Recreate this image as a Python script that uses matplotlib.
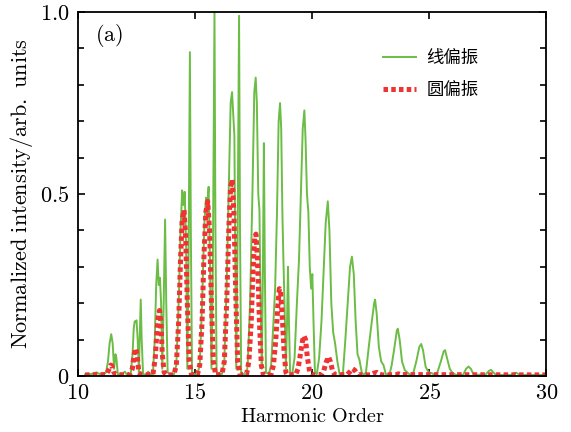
import matplotlib
matplotlib.use("Agg")
import matplotlib.pyplot as plt
from matplotlib.ticker import MultipleLocator

plt.rcParams['mathtext.fontset'] = 'cm'

# Linear polarization (green) spectrum
lin_x = [10.3, 10.6, 10.8, 10.9, 11.1, 11.2,
         11.28, 11.35, 11.42, 11.48, 11.54, 11.6, 11.64, 11.7, 11.85, 12.0, 12.1, 12.25,
         12.33, 12.38, 12.42, 12.46, 12.5, 12.55, 12.6, 12.63, 12.68, 12.72, 12.78, 12.9, 13.0, 13.1, 13.2,
         13.28, 13.34, 13.4, 13.45, 13.5, 13.55, 13.6, 13.66, 13.72, 13.77, 13.83, 13.95, 14.1,
         14.2, 14.3, 14.38, 14.45, 14.5, 14.56, 14.62, 14.67, 14.72, 14.78, 14.82, 14.87, 15.0, 15.1,
         15.2, 15.3, 15.4, 15.47, 15.52, 15.58, 15.64, 15.7, 15.76, 15.83, 15.87, 15.92, 16.05, 16.15,
         16.25, 16.35, 16.45, 16.52, 16.58, 16.63, 16.68, 16.72, 16.76, 16.82, 16.88, 16.92, 16.97, 17.1, 17.2,
         17.25, 17.35, 17.45, 17.53, 17.59, 17.64, 17.7, 17.75, 17.8, 17.85, 17.9, 17.94, 17.98, 18.03, 18.15,
         18.25, 18.35, 18.42, 18.5, 18.57, 18.63, 18.68, 18.73, 18.77, 18.82, 18.88, 18.93, 18.97, 19.01, 19.06, 19.15,
         19.25, 19.35, 19.44, 19.52, 19.6, 19.67, 19.72, 19.78, 19.84, 19.9, 19.96, 20.01, 20.06, 20.12, 20.2,
         20.3, 20.4, 20.5, 20.58, 20.67, 20.74, 20.82, 20.9, 20.98, 21.08, 21.18,
         21.32, 21.42, 21.52, 21.62, 21.7, 21.78, 21.86, 21.94, 22.02, 22.12, 22.2,
         22.3, 22.42, 22.55, 22.65, 22.69, 22.76, 22.85, 22.95, 23.05, 23.15, 23.3,
         23.4, 23.52, 23.62, 23.66, 23.74, 23.84, 23.96, 24.06, 24.2,
         24.33, 24.45, 24.58, 24.66, 24.74, 24.85, 24.98, 25.1, 25.25,
         25.35, 25.5, 25.62, 25.68, 25.76, 25.88, 26.0, 26.15, 26.45, 26.58, 26.68, 26.78, 26.9,
         27.4, 27.55, 27.64, 27.74, 27.85, 28.5, 28.65, 28.72, 28.8, 28.95, 29.95]
lin_y = [0.004, 0.006, 0.01, 0.006, 0.005, 0.01,
         0.04, 0.09, 0.115, 0.09, 0.02, 0.06, 0.05, 0.005, 0.003, 0.012, 0.003, 0.004,
         0.06, 0.13, 0.15, 0.148, 0.153, 0.1, 0.01, 0.09, 0.21, 0.1, 0.005, 0.004, 0.012, 0.003, 0.004,
         0.1, 0.25, 0.32, 0.25, 0.27, 0.2, 0.02, 0.2, 0.43, 0.2, 0.01, 0.004, 0.005,
         0.03, 0.2, 0.4, 0.51, 0.47, 0.506, 0.35, 0.02, 0.3, 0.89, 0.4, 0.01, 0.004, 0.005,
         0.03, 0.2, 0.42, 0.49, 0.47, 0.52, 0.3, 0.02, 0.3, 1.0, 0.4, 0.01, 0.004, 0.006,
         0.04, 0.25, 0.55, 0.75, 0.78, 0.72, 0.66, 0.3, 0.02, 0.4, 0.99, 0.4, 0.01, 0.004, 0.006,
         0.03, 0.2, 0.5, 0.78, 0.82, 0.75, 0.5, 0.456, 0.2, 0.02, 0.3, 0.64, 0.3, 0.01, 0.005,
         0.03, 0.15, 0.24, 0.45, 0.7, 0.75, 0.68, 0.45, 0.33, 0.2, 0.02, 0.15, 0.3, 0.15, 0.01, 0.005,
         0.05, 0.2, 0.32, 0.5, 0.68, 0.73, 0.65, 0.5, 0.45, 0.3, 0.24, 0.28, 0.15, 0.01, 0.005,
         0.05, 0.15, 0.3, 0.42, 0.48, 0.4, 0.2, 0.12, 0.09, 0.04, 0.003,
         0.01, 0.1, 0.2, 0.3, 0.328, 0.28, 0.15, 0.06, 0.045, 0.01, 0.003,
         0.01, 0.08, 0.15, 0.2, 0.21, 0.17, 0.08, 0.04, 0.03, 0.005, 0.003,
         0.03, 0.08, 0.125, 0.13, 0.1, 0.04, 0.016, 0.01, 0.003,
         0.01, 0.04, 0.08, 0.088, 0.07, 0.025, 0.01, 0.008, 0.003,
         0.01, 0.04, 0.068, 0.071, 0.05, 0.02, 0.008, 0.003, 0.003, 0.02, 0.026, 0.02, 0.004,
         0.003, 0.014, 0.017, 0.01, 0.003, 0.003, 0.008, 0.009, 0.006, 0.003, 0.003]

# Circular polarization (red) spectrum
cir_x = [10.3, 10.8, 11.2, 11.3, 11.4, 11.45, 11.52, 11.6,
         12.2, 12.32, 12.4, 12.46, 12.52, 12.6, 12.7,
         13.2, 13.3, 13.38, 13.44, 13.48, 13.54, 13.6, 13.68, 13.8,
         14.1, 14.2, 14.3, 14.38, 14.45, 14.53, 14.6, 14.67, 14.75, 14.85,
         15.1, 15.2, 15.3, 15.38, 15.46, 15.54, 15.62, 15.7, 15.78, 15.88,
         16.15, 16.25, 16.35, 16.45, 16.52, 16.59, 16.66, 16.74, 16.82, 16.92,
         17.2, 17.3, 17.4, 17.48, 17.55, 17.6, 17.67, 17.75, 17.83, 17.92,
         18.25, 18.35, 18.45, 18.53, 18.6, 18.65, 18.72, 18.8, 18.88, 18.95,
         19.3, 19.4, 19.5, 19.6, 19.66, 19.72, 19.8, 19.9, 20.0,
         20.4, 20.5, 20.6, 20.7, 20.78, 20.88, 20.98,
         21.5, 21.62, 21.72, 21.82, 21.95,
         22.5, 22.65, 22.76, 22.88, 23.0,
         23.6, 23.7, 23.8, 29.95]
cir_y = [0.003, 0.004, 0.004, 0.015, 0.03, 0.028, 0.012, 0.004,
         0.003, 0.02, 0.06, 0.076, 0.06, 0.01, 0.003,
         0.004, 0.05, 0.13, 0.17, 0.18, 0.15, 0.06, 0.01, 0.002,
         0.004, 0.03, 0.15, 0.32, 0.43, 0.456, 0.38, 0.2, 0.04, 0.003,
         0.004, 0.03, 0.15, 0.33, 0.45, 0.48, 0.4, 0.2, 0.04, 0.003,
         0.005, 0.04, 0.2, 0.42, 0.52, 0.54, 0.45, 0.22, 0.04, 0.003,
         0.005, 0.04, 0.15, 0.3, 0.38, 0.39, 0.32, 0.15, 0.03, 0.003,
         0.005, 0.03, 0.1, 0.19, 0.24, 0.235, 0.17, 0.07, 0.01, 0.003,
         0.004, 0.02, 0.06, 0.1, 0.11, 0.1, 0.05, 0.01, 0.003,
         0.004, 0.015, 0.038, 0.053, 0.04, 0.012, 0.003,
         0.004, 0.012, 0.02, 0.016, 0.004,
         0.003, 0.008, 0.01, 0.005, 0.003,
         0.004, 0.006, 0.004, 0.003]

labels = ['线偏振', '圆偏振']
x_ticks = [10, 15, 20, 25, 30]
y_ticks = [0, 0.5, 1.0]
y_ticklabels = ['0', '0.5', '1.0']

fig = plt.figure(figsize=(5.71, 4.32), dpi=100)
ax = fig.add_axes([0.1366, 0.1296, 0.82, 0.8424])

ax.plot(lin_x, lin_y, color='#6bbd45', lw=1.4, label=labels[0])
ax.plot(cir_x, cir_y, color='#f03232', lw=3.6, linestyle=(0, (0.9, 0.65)),
        dash_capstyle='butt', label=labels[1])

ax.set_xlim(10, 30)
ax.set_ylim(0, 1.0)
ax.set_xticks(x_ticks)
ax.set_xticklabels(['$%d$' % t for t in x_ticks])
ax.set_yticks(y_ticks)
ax.set_yticklabels(['$%s$' % t for t in y_ticklabels])
ax.yaxis.set_minor_locator(MultipleLocator(0.1))
ax.tick_params(which='both', direction='in', top=True, right=True, labelsize=16,
               width=1.2)
ax.tick_params(axis='x', pad=5)
ax.tick_params(axis='y', pad=6)
ax.tick_params(which='major', length=5)
ax.tick_params(which='minor', length=4)
for s in ax.spines.values():
    s.set_linewidth(1.3)

ax.set_xlabel(r'$\mathrm{Harmonic\ Order}$', fontsize=14.5, labelpad=3)
ax.set_ylabel(r'$\mathrm{Normalized\ intensity/arb.\ units}$', fontsize=16, labelpad=4)
ax.text(10.72, 0.937, r'$\mathrm{(a)}$', fontsize=16, va='center', ha='left')

leg = ax.legend(loc='upper right', bbox_to_anchor=(0.855, 0.898), frameon=False,
                prop={'family': ['Noto Sans CJK SC', 'DejaVu Sans'], 'size': 12.5},
                handlelength=1.9, labelspacing=0.8, borderpad=0, borderaxespad=0,
                handletextpad=0.6)

fig.savefig('out.png', dpi=100)
